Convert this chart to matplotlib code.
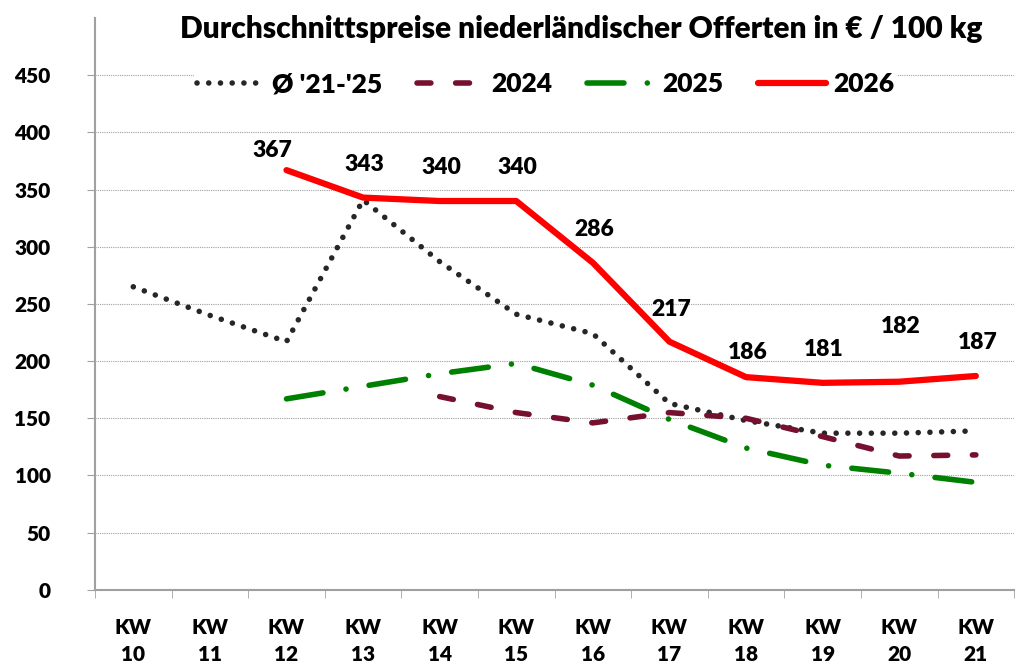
import matplotlib
matplotlib.use('Agg')
import matplotlib.pyplot as plt
import numpy as np

plt.rcParams['font.family'] = ['Lato', 'DejaVu Sans']
plt.rcParams['font.weight'] = 'heavy'

# data
weeks = ['KW\n10', 'KW\n11', 'KW\n12', 'KW\n13', 'KW\n14', 'KW\n15',
         'KW\n16', 'KW\n17', 'KW\n18', 'KW\n19', 'KW\n20', 'KW\n21']
avg_21_25 = [265, 240, 217, 341, 287, 241, 224, 163, 148, 137, 137, 139]
y2024 = [None, None, None, None, 169, 155, 146, 155, 150, 134, 117, 118]
y2025 = [None, None, 167, 178, 189, 198, 179, 149, 124, 109, 102, 94]
y2026 = [None, None, 367, 343, 340, 340, 286, 217, 186, 181, 182, 187]

# label offsets in points (dx, dy) for the 2026 values
label_offsets = [(0, 0), (0, 0), (-10, 14), (1, 24), (1, 24), (1, 24),
                 (1, 24), (1, 23), (1, 18), (1, 24), (1, 40), (1, 24)]


def to_arr(vals):
    return np.array([np.nan if v is None else v for v in vals], dtype=float)


fig = plt.figure(figsize=(10.27, 6.68), dpi=100, facecolor='white')
ax = fig.add_axes([0.0925, 0.117, 0.895, 0.856])
x = np.arange(len(weeks))

for yv in range(50, 451, 50):
    ax.axhline(yv, color='#a0a0a0', linestyle=(0, (1, 1)), linewidth=0.8, zorder=0)

lw = 4.0
ax.plot(x, to_arr(avg_21_25), color='#262626', linestyle=(0, (0.01, 2.1)),
        linewidth=4.0, dash_capstyle='round', label="Ø '21-'25")
ax.plot(x, to_arr(y2024), color='#76102f', linestyle=(0, (2.5, 4.45)),
        linewidth=lw, dash_capstyle='round', label='2024')
ax.plot(x, to_arr(y2025), color='#008000', linestyle=(0, (6.65, 4.2, 0.01, 4.2)),
        linewidth=lw, dash_capstyle='round', label='2025')
ax.plot(x, to_arr(y2026), color='#ff0000', linewidth=4.5,
        solid_capstyle='round', solid_joinstyle='round', label='2026')

for i, v in enumerate(y2026):
    if v is None:
        continue
    dx, dy = label_offsets[i]
    ax.annotate(str(v), (x[i], v), xytext=(dx, dy), textcoords='offset points',
                ha='center', va='center', fontsize=16.5, fontweight='heavy', color='black')

ax.set_xlim(-0.5, len(weeks) - 0.5)
ax.set_ylim(0, 500)
ax.set_yticks(range(0, 451, 50))
ax.set_xticks(x)
ax.set_xticklabels(weeks, fontsize=15, fontweight='heavy', linespacing=1.55)
ax.set_xticks(np.arange(-0.5, len(weeks), 1.0), minor=True)
ax.tick_params(axis='x', which='major', length=0, pad=20)
ax.tick_params(axis='x', which='minor', length=6, color='#a0a0a0', direction='out')
ax.tick_params(axis='y', length=6, color='#a0a0a0', direction='out', labelsize=15, pad=26)
for lab in ax.get_yticklabels():
    lab.set_fontweight('heavy')
    lab.set_horizontalalignment('right')

for s in ['top', 'right']:
    ax.spines[s].set_visible(False)
for s in ['left', 'bottom']:
    ax.spines[s].set_color('#a0a0a0')
    ax.spines[s].set_linewidth(1.5)

fig.text(0.566, 0.957, 'Durchschnittspreise niederländischer Offerten in € / 100 kg',
         ha='center', va='center', fontsize=21.5, fontweight='heavy')

leg = ax.legend(loc='center', bbox_to_anchor=(0.49, 0.884), ncol=4, frameon=True,
                fontsize=19, handlelength=2.6, columnspacing=1.3, handletextpad=0.25,
                borderpad=0.1)
leg.get_frame().set_edgecolor('none')
leg.get_frame().set_facecolor('white')
leg.get_frame().set_alpha(1)
for t in leg.get_texts():
    t.set_fontweight('heavy')

fig.savefig('out.png', dpi=100, facecolor='white')
